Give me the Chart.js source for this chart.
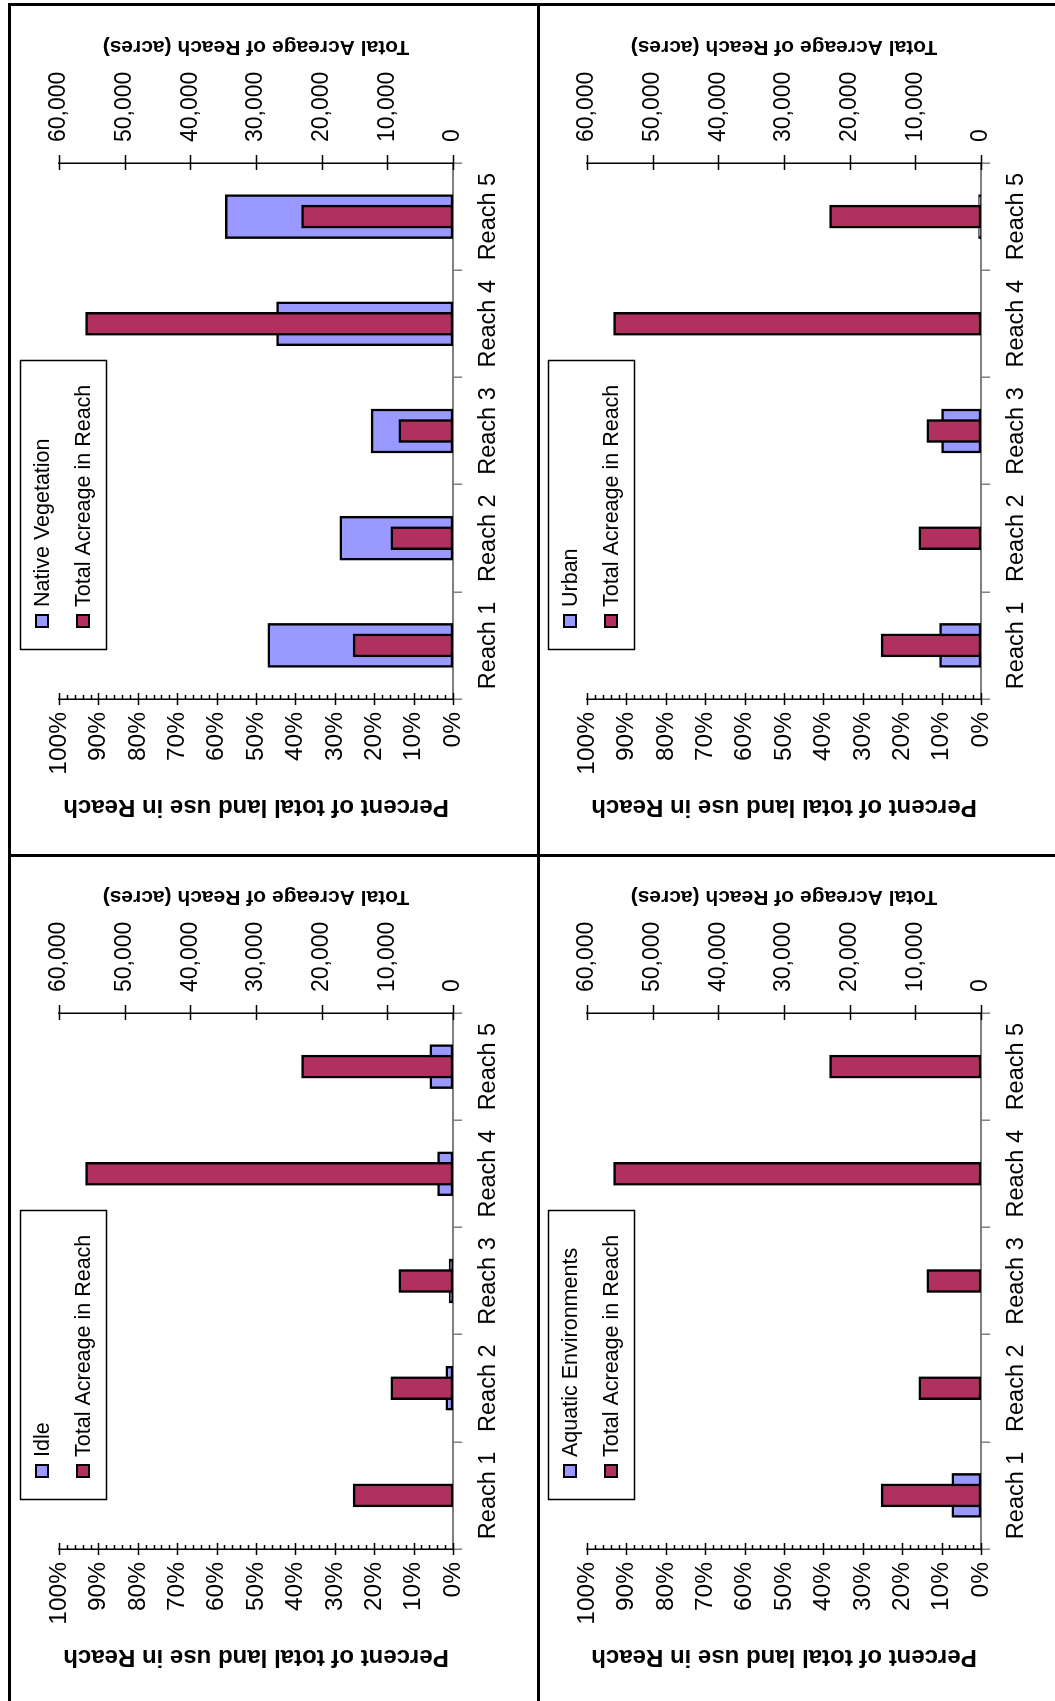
<!DOCTYPE html>
<html lang="en">
<head>
<meta charset="UTF-8">
<title>Land use by reach</title>
<script src="https://cdn.jsdelivr.net/npm/chart.js"></script>
<style>
  html, body { margin: 0; padding: 0; background: #fff; overflow: hidden; width: 1055px; height: 1701px; }
  /* the whole landscape sheet is turned a quarter turn to the left */
  #page { position: absolute; left: 0; top: 0; width: 1701px; height: 1055px; background: #fff;
          transform-origin: 0 0; transform: translate(0, 1701px) rotate(-90deg); }
  .panel { position: absolute; width: 851px; height: 528px; }
  .panel canvas { display: block; width: 851px; height: 528px; }
  .rule { position: absolute; background: #000; }
</style>
</head>
<body>
<div id="page">
  <div class="panel" style="left:-5px; top:10px"><canvas id="c-idle" width="851" height="528"></canvas></div>
  <div class="panel" style="left:845px; top:10px"><canvas id="c-native" width="851" height="528"></canvas></div>
  <div class="panel" style="left:-5px; top:538px"><canvas id="c-aquatic" width="851" height="528"></canvas></div>
  <div class="panel" style="left:845px; top:538px"><canvas id="c-urban" width="851" height="528"></canvas></div>

  <div class="rule" style="left:0; top:8px; width:1698px; height:3px"></div>
  <div class="rule" style="left:0; top:537px; width:1698px; height:3px"></div>
  <div class="rule" style="left:1695px; top:8px; width:3px; height:1047px"></div>
  <div class="rule" style="left:844px; top:8px; width:3px; height:1047px"></div>
</div>

<script>
// Data
const reaches = ['Reach 1', 'Reach 2', 'Reach 3', 'Reach 4', 'Reach 5'];
const totalAcreage = [15200, 9450, 8250, 55950, 23050];       // acres
const nativeVegetation = [47.0, 28.7, 20.8, 44.8, 57.8];      // % of reach
const idle = [0, 1.8, 1.0, 3.9, 5.9];
const urban = [10.5, 0, 10.0, 0, 0.6];
const aquaticEnvironments = [7.4, 0, 0, 0, 0];
const percentTicks = { min: 0, max: 100, step: 10, minorStep: 2 };
const acreTicks = { min: 0, max: 60000, step: 10000 };

const FONT = '"Liberation Sans", Arial, sans-serif';
const BLUE = '#9999FF';
const PLUM = '#B03060';
Chart.defaults.font.family = FONT;
Chart.defaults.color = '#000';

// tick marks, right axis title and the boxed legend
const decor = {
  id: 'decor',
  afterDraw(chart) {
    const ctx = chart.ctx;
    const a = chart.chartArea;
    const y = chart.scales.y, y2 = chart.scales.y2;
    ctx.save();
    ctx.strokeStyle = '#000';
    ctx.lineWidth = 1.5;
    ctx.beginPath();
    for (let v = percentTicks.min; v <= percentTicks.max; v += percentTicks.minorStep) {
      const p = Math.round(y.getPixelForValue(v)) + 0.5;
      if (v % percentTicks.step === 0) { ctx.moveTo(a.left - 6, p); ctx.lineTo(a.left + 6, p); }
      else { ctx.moveTo(a.left, p); ctx.lineTo(a.left + 4, p); }
    }
    y2.ticks.forEach(t => {
      const p = Math.round(y2.getPixelForValue(t.value)) + 0.5;
      ctx.moveTo(a.right - 7, p); ctx.lineTo(a.right + 8, p);
    });
    ctx.stroke();

    // secondary axis title, reading upward
    ctx.save();
    ctx.font = 'bold 21px ' + FONT;
    ctx.fillStyle = '#000';
    ctx.textAlign = 'center';
    ctx.textBaseline = 'middle';
    ctx.translate(a.right + 116, (a.top + a.bottom) / 2);
    ctx.rotate(-Math.PI / 2);
    ctx.fillText('Total Acreage of Reach (acres)', 0, 0);
    ctx.restore();

    // legend box
    const bx = 206, by = 10, bw = 289, bh = 86;
    ctx.fillStyle = '#fff';
    ctx.fillRect(bx, by, bw, bh);
    ctx.lineWidth = 1.5;
    ctx.strokeStyle = '#000';
    ctx.strokeRect(bx + 0.5, by + 0.5, bw, bh);
    ctx.font = '21.5px ' + FONT;
    ctx.textAlign = 'left';
    ctx.textBaseline = 'middle';
    chart.data.datasets.forEach((ds, i) => {
      const cy = by + 22 + i * 41;
      ctx.fillStyle = ds.backgroundColor;
      ctx.fillRect(bx + 23, cy - 6, 12, 12);
      ctx.lineWidth = 2;
      ctx.strokeRect(bx + 23, cy - 6, 12, 12);
      ctx.fillStyle = '#000';
      ctx.fillText(ds.label, bx + 43, cy + 1);
    });
    ctx.restore();
  }
};

function landUseChart(id, label, values) {
  return new Chart(document.getElementById(id), {
    type: 'bar',
    data: {
      labels: reaches,
      datasets: [
        { label: label, data: values, yAxisID: 'y', grouped: false, order: 2,
          backgroundColor: BLUE, borderColor: '#000', borderWidth: 2.5, borderSkipped: false, barThickness: 44 },
        { label: 'Total Acreage in Reach', data: totalAcreage, yAxisID: 'y2', grouped: false, order: 1,
          backgroundColor: PLUM, borderColor: '#000', borderWidth: 2.5, borderSkipped: false, barThickness: 23 }
      ]
    },
    options: {
      responsive: false,
      devicePixelRatio: 1,
      animation: false,
      events: [],
      layout: { padding: { top: 49, left: 0, right: 0, bottom: 0 } },
      plugins: { legend: { display: false }, tooltip: { enabled: false } },
      scales: {
        x: {
          offset: true,
          grid: { display: true, offset: true, drawOnChartArea: false, drawTicks: true, tickLength: 9, color: '#808080', lineWidth: 1.5 },
          border: { display: true, color: '#808080', width: 2 },
          ticks: { font: { size: 23.5 }, padding: 12, maxRotation: 0, color: '#000' },
          afterFit: s => { s.height = 85; }
        },
        y: {
          position: 'left',
          min: percentTicks.min, max: percentTicks.max,
          grid: { display: false, drawTicks: false },
          border: { display: true, color: '#000', width: 1.5 },
          ticks: { stepSize: percentTicks.step, padding: 13, font: { size: 24.5 }, color: '#000', callback: v => v + '%' },
          title: { display: true, text: 'Percent of total land use in Reach', color: '#000',
                   font: { size: 24, weight: 'bold' }, padding: { top: 34.6, bottom: 0 } },
          afterFit: s => { s.width = 157; }
        },
        y2: {
          position: 'right',
          min: acreTicks.min, max: acreTicks.max,
          grid: { display: false, drawTicks: false },
          border: { display: true, color: '#000', width: 1.5 },
          ticks: { stepSize: acreTicks.step, padding: 21, font: { size: 23 }, color: '#000',
                   callback: v => v.toLocaleString('en-US') },
          afterFit: s => { s.width = 158; }
        }
      }
    },
    plugins: [decor]
  });
}

landUseChart('c-native', 'Native Vegetation', nativeVegetation);
landUseChart('c-idle', 'Idle', idle);
landUseChart('c-urban', 'Urban', urban);
landUseChart('c-aquatic', 'Aquatic Environments', aquaticEnvironments);
</script>
</body>
</html>
